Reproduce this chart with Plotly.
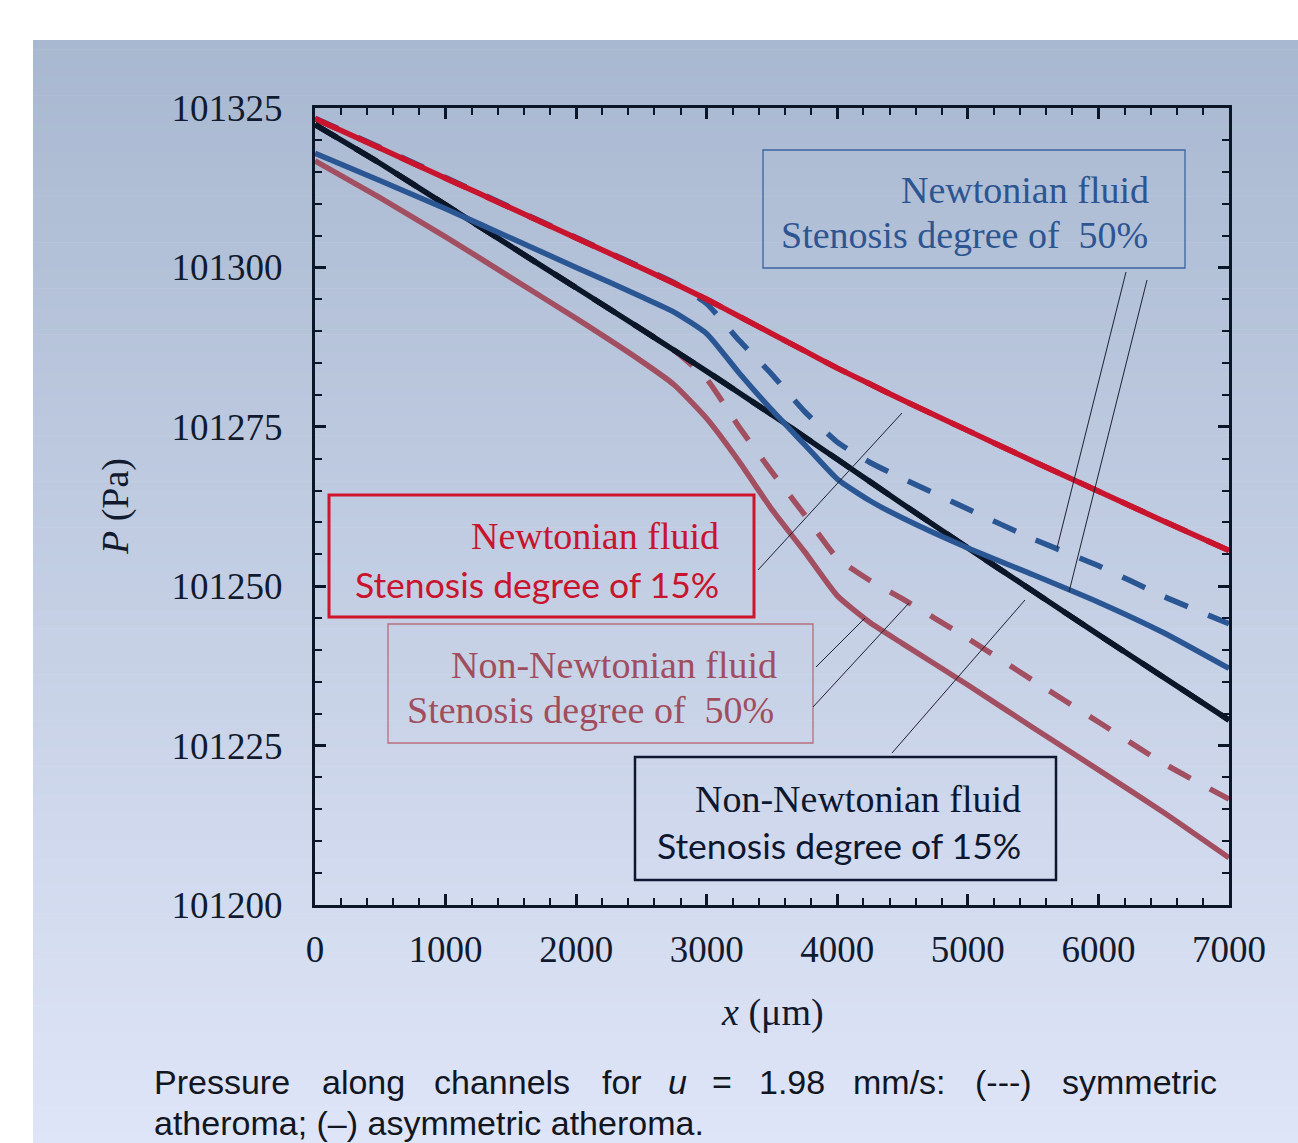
import plotly.graph_objects as go

# ---------------- data ----------------
x_um = [0, 500, 1000, 1500, 2000, 2500, 2750, 3000, 3250, 3500, 3750, 4000, 4250, 4500,
        5000, 5500, 6000, 6500, 7000]

newt15_sym = [101323.3, 101318.7, 101314.0, 101309.3, 101304.6, 101299.9, 101297.5, 101295.0,
              101292.3, 101289.6, 101286.9, 101284.2, 101281.7, 101279.2,
              101274.4, 101269.6, 101264.9, 101260.2, 101255.6]
newt15_asym = [101323.3, 101318.7, 101314.0, 101309.3, 101304.6, 101299.9, 101297.5, 101295.0,
               101292.3, 101289.6, 101286.9, 101284.2, 101281.7, 101279.2,
               101274.4, 101269.6, 101264.9, 101260.2, 101255.6]
newt50_sym = [101323.4, 101318.8, 101314.1, 101309.4, 101304.7, 101300.0, 101297.6, 101294.3,
              101288.5, 101283.2, 101277.4, 101272.6, 101269.4, 101266.9,
              101262.1, 101257.4, 101253.2, 101248.4, 101244.1]
newt50_asym = [101317.9, 101313.6, 101309.2, 101304.6, 101300.0, 101295.4, 101293.0, 101289.6,
               101283.4, 101277.6, 101272.2, 101266.8, 101263.4, 101260.7,
               101256.0, 101251.8, 101247.5, 101242.7, 101237.1]
nonnewt15_sym = [101322.4, 101316.3, 101309.8, 101303.3, 101296.8, 101290.3, 101287.0, 101283.7,
                 101280.3, 101276.9, 101273.4, 101269.9, 101266.4, 101262.9,
                 101256.0, 101249.2, 101242.4, 101235.7, 101229.0]
nonnewt15_asym = [101322.4, 101316.3, 101309.8, 101303.3, 101296.8, 101290.3, 101287.0, 101283.7,
                  101280.3, 101276.9, 101273.4, 101269.9, 101266.4, 101262.9,
                  101256.0, 101249.2, 101242.4, 101235.7, 101229.0]
nonnewt50_sym = [101322.4, 101316.3, 101309.8, 101303.3, 101296.8, 101290.3, 101287.0, 101282.5,
                 101274.9, 101267.9, 101261.2, 101254.4, 101250.9, 101248.0,
                 101241.8, 101235.2, 101228.7, 101222.2, 101216.6]
nonnewt50_asym = [101316.7, 101310.9, 101304.8, 101298.4, 101292.0, 101285.3, 101281.6, 101276.3,
                  101269.5, 101262.0, 101255.4, 101248.5, 101244.3, 101241.0,
                  101234.5, 101227.8, 101221.2, 101214.5, 101207.4]

x_ticks = [0, 1000, 2000, 3000, 4000, 5000, 6000, 7000]
y_ticks = [101200, 101225, 101250, 101275, 101300, 101325]

# ---------------- styling ----------------
RED = "#c8142d"
BLUE = "#2b5694"
BLACK = "#0b1629"
MAUVE = "#a24f61"
AXC = "#0b1629"
SERIF = "Liberation Serif"
SANS = "Liberation Sans"
CAL = "Lato"

W, H = 1298, 1143
L, R, T, B = 315, 1229, 108, 905


def px(xp):
    return (xp - L) / (R - L)


def py(yp):
    return (B - yp) / (B - T)


DASH = "25px,22px"
fig = go.Figure()
series = [
    (x_um, newt50_sym, BLUE, DASH),
    (x_um, nonnewt50_sym, MAUVE, DASH),
    (x_um, newt15_sym, RED, DASH),
    (x_um, newt15_asym, RED, "solid"),
    (x_um, nonnewt15_sym, BLACK, DASH),
    (x_um, nonnewt15_asym, BLACK, "solid"),
    (x_um, newt50_asym, BLUE, "solid"),
    (x_um, nonnewt50_asym, MAUVE, "solid"),
]
for xs, ys, c, d in series:
    fig.add_trace(go.Scatter(x=xs, y=ys, mode="lines",
                             line=dict(color=c, width=5.5, dash=d, shape="spline", smoothing=0.5),
                             showlegend=False, hoverinfo="skip"))

shapes = []
# gradient background
top = (168, 184, 208)
bot = (223, 229, 248)
y0p, y1p = 40, 1143
n = 120
for i in range(n):
    a = y0p + (y1p - y0p) * i / n
    b = y0p + (y1p - y0p) * (i + 1) / n
    t = (i + 0.5) / n
    col = "rgb(%d,%d,%d)" % tuple(round(top[k] + (bot[k] - top[k]) * t) for k in range(3))
    shapes.append(dict(type="rect", xref="paper", yref="paper", layer="below",
                       x0=px(33), x1=px(1300), y0=py(a), y1=py(b + 0.6),
                       fillcolor=col, line=dict(width=0)))

# text boxes
boxes = [
    ((763, 150, 1185, 268), "#3a64a0", 1.3),
    ((329, 495, 754, 617), "#d0142c", 3),
    ((388, 624, 813, 743), "#b86d7b", 1.3),
    ((635, 757, 1056, 880), "#0d1830", 2.5),
]
for (a, b_, c, d), col, w in boxes:
    shapes.append(dict(type="rect", xref="paper", yref="paper",
                       x0=px(a), x1=px(c), y0=py(b_), y1=py(d),
                       line=dict(color=col, width=w), fillcolor="rgba(0,0,0,0)"))

# leader lines
leaders = [
    (758, 570, 902, 413), (1126, 272, 1057, 548), (1147, 280, 1069, 592),
    (816, 667, 865, 618), (813, 707, 909, 603), (892, 753, 1025, 600),
]
for a, b_, c, d in leaders:
    shapes.append(dict(type="line", xref="paper", yref="paper",
                       x0=px(a), y0=py(b_), x1=px(c), y1=py(d),
                       line=dict(color="#1c2233", width=1)))

anns = []


def txt(s, xp, base, size, color, family, anchor="right"):
    anns.append(dict(text=s, xref="paper", yref="paper", x=px(xp), y=py(base - 0.32 * size),
                     xanchor=anchor, yanchor="middle", showarrow=False,
                     font=dict(size=size, color=color, family=family)))


NB = "\u00a0"
txt("Newtonian fluid", 1151, 202, 38, "#2d5591", SERIF)
txt("Stenosis degree of" + NB + " 50%", 1150, 247, 38, "#2d5591", SERIF)
txt("Newtonian fluid", 721, 548, 38, RED, SERIF)
txt("Stenosis degree of 15%", 721, 596, 35.5, RED, CAL)
txt("Non-Newtonian fluid", 779, 677, 38, "#a04e5e", SERIF)
txt("Stenosis degree of" + NB + " 50%", 776, 722, 38, "#a04e5e", SERIF)
txt("Non-Newtonian fluid", 1023, 811, 38, "#0d1830", SERIF)
txt("Stenosis degree of 15%", 1023, 857, 35.5, "#0d1830", CAL)

# axis titles
anns.append(dict(text="<i>P</i> (Pa)", xref="paper", yref="paper", x=px(115), y=py(507),
                 xanchor="center", yanchor="middle", textangle=-90, showarrow=False,
                 font=dict(size=38, color="#111a2e", family=SERIF)))
anns.append(dict(text="<i>x</i> (μm)", xref="paper", yref="paper", x=px(772), y=py(1012),
                 xanchor="center", yanchor="middle", showarrow=False,
                 font=dict(size=38, color="#111a2e", family=SERIF)))

# caption (justified first line)
CAP = 34
words = [("Pressure", 152), ("along", 320), ("channels", 432), ("for", 600), ("<i>u</i>", 666),
         ("=", 710), ("1.98", 757), ("mm/s:", 851), ("(---)", 973), ("symmetric", 1060)]
for w_, xp in words:
    txt(w_, xp, 1093, CAP, "#111620", SANS, anchor="left")
txt("atheroma; (–) asymmetric atheroma.", 152, 1134, CAP, "#111620", SANS, anchor="left")

axis_common = dict(showline=True, linecolor=AXC, linewidth=3, mirror="ticks",
                   ticks="inside", ticklen=11, tickwidth=2.5, tickcolor=AXC,
                   showgrid=False, zeroline=False,
                   tickfont=dict(family=SERIF, size=37, color="#111a2e"))

fig.update_layout(
    width=W, height=H,
    margin=dict(l=L, r=W - R, t=T, b=H - B, autoexpand=False),
    paper_bgcolor="white", plot_bgcolor="rgba(0,0,0,0)",
    xaxis=dict(range=[0, 7000], tickvals=x_ticks, ticklabelstandoff=10,
               minor=dict(ticks="inside", ticklen=7, tickwidth=2, tickcolor=AXC, dtick=200),
               **axis_common),
    yaxis=dict(range=[101200, 101325], tickvals=y_ticks, ticklabelstandoff=22,
               tickformat="d",
               minor=dict(ticks="inside", ticklen=7, tickwidth=2, tickcolor=AXC, dtick=5),
               **axis_common),
    shapes=shapes, annotations=anns, showlegend=False,
)

fig.write_html("out.html")
